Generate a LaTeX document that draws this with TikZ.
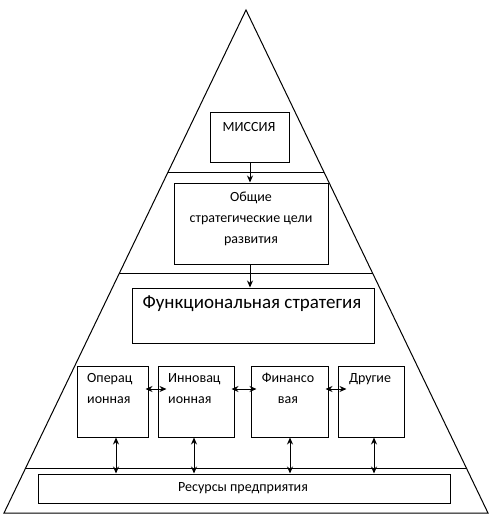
\documentclass[tikz,border=0pt]{standalone}
\usepackage{fontspec}
\setmainfont{Carlito}
\usetikzlibrary{arrows.meta,calc}
\begin{document}
\begin{tikzpicture}[x=1pt,y=-1pt,
  box/.style={draw,line width=1pt,rectangle,inner sep=0pt},
  txt/.style={font=\fontsize{14}{21}\selectfont,inner sep=0pt,align=center},
  conn/.style={line width=1pt,-{Stealth[length=7pt,width=6pt]}},
  dconn/.style={line width=1pt,{Stealth[length=7pt,width=6pt]}-{Stealth[length=7pt,width=6pt]}},
  edge/.style={line width=1pt}]
\useasboundingbox (0,0) rectangle (490,520);
% pyramid
\coordinate (A) at (246,10);
\coordinate (L) at (4,513);
\coordinate (R) at (488,513);
\draw[edge] (L) -- (A) -- (R) -- cycle;
\draw[edge] ($(A)!0.324!(L)$) -- ($(A)!0.324!(R)$);
\draw[edge] ($(A)!0.523!(L)$) -- ($(A)!0.523!(R)$);
\draw[edge] ($(A)!0.911!(L)$) -- ($(A)!0.911!(R)$);
% boxes
\node[box,minimum width=79pt,minimum height=50pt] (mis) at (249.5,137) {};
\node[txt,anchor=center] (mist) at (249,127) {МИССИЯ};
\node[box,minimum width=154pt,minimum height=81pt] (obs) at (251,223.5) {};
\node[txt,anchor=center] (obst) at (251,219) {Общие\\стратегические цели\\развития};
\node[box,minimum width=242pt,minimum height=55pt] (fun) at (253,315.5) {};
\node[txt,font=\fontsize{19}{23}\selectfont,anchor=center] (funt) at (252,304) {Функциональная стратегия};
\node[box,minimum width=71pt,minimum height=71pt] (op) at (112.5,401.5) {};
\node[txt,align=left,anchor=north west] (opt) at (87,373) {Операц\\ионная};
\node[box,minimum width=76pt,minimum height=71pt] (in) at (196,401.5) {};
\node[txt,align=left,anchor=north west] (int) at (168,373) {Инновац\\ионная};
\node[box,minimum width=77pt,minimum height=71pt] (fi) at (289.5,401.5) {};
\node[txt,anchor=north] (fit) at (288,373) {Финансо\\вая};
\node[box,minimum width=66pt,minimum height=71pt] (dr) at (371,401.5) {};
\node[txt,anchor=north] (drt) at (370,373) {Другие};
\node[box,minimum width=412pt,minimum height=29pt] (res) at (244,488.5) {};
\node[txt,anchor=center] (rest) at (243,488) {Ресурсы предприятия};
% connectors
\draw[conn] (mis.south -| 250,0) -- (obs.north -| 250,0);
\draw[conn] (obs.south -| 250,0) -- (fun.north -| 250,0);
\draw[dconn] ([xshift=-3pt]op.east |- 0,389) -- ([xshift=9pt]in.west |- 0,389);
\draw[dconn] ([xshift=-3pt]in.east |- 0,389) -- ([xshift=6pt]fi.west |- 0,389);
\draw[dconn] ([xshift=-3pt]fi.east |- 0,389) -- ([xshift=9pt]dr.west |- 0,389);
\draw[dconn] (op.south -| 116,0) -- (res.north -| 116,0);
\draw[dconn] (in.south -| 194,0) -- (res.north -| 194,0);
\draw[dconn] (fi.south -| 290,0) -- (res.north -| 290,0);
\draw[dconn] (dr.south -| 374,0) -- (res.north -| 374,0);
\end{tikzpicture}
\end{document}
